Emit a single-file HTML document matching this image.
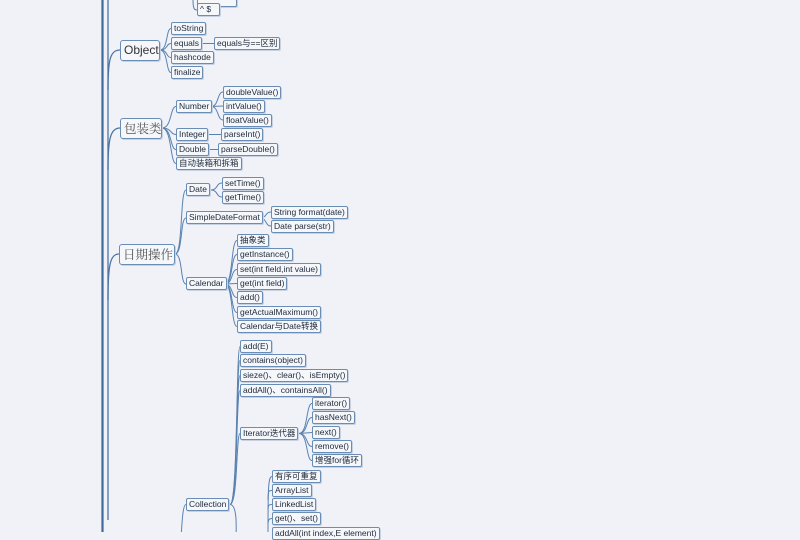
<!DOCTYPE html>
<html><head><meta charset="utf-8"><style>
html,body{margin:0;padding:0}
body{width:800px;height:532px;overflow:hidden;background:#f0f2f8;position:relative;font-family:"Liberation Sans","Noto Sans CJK SC",sans-serif}
svg{position:absolute;left:0;top:0}
.n{position:absolute;box-sizing:border-box;height:13px;border:1px solid #6a8db6;border-radius:2px;background:#f5f7fb;font-size:8.5px;line-height:11px;color:#1e2a3a;padding:0 2px;white-space:nowrap;box-shadow:1px 1px 0 #c6d2e2}
.b{height:21px;font-size:12px;line-height:19px;padding:0 3px;border-radius:3px;color:#333}
.s{font-family:"Noto Serif CJK SC","Liberation Serif",serif;font-size:12.5px;color:#555}
</style></head><body>
<svg width="800" height="532" fill="none" stroke="#5a82b0" stroke-width="1">
<line x1="102.5" y1="0" x2="102.5" y2="532" stroke="#3f6a9e" stroke-width="2.2"/>
<path d="M108 0 L108 520" stroke="#4d74a4" stroke-width="1.3"/>
<path d="M108 90 C108 60 110 50 120 50" stroke="#4d74a4" stroke-width="1.3"/>
<path d="M108 170 C108 140 110 128 120 128" stroke="#4d74a4" stroke-width="1.3"/>
<path d="M108 300 C108 265 110 254 119 254" stroke="#4d74a4" stroke-width="1.3"/>
<path d="M193 0 C193 8 194 10 197 10"/>
<g>
<path d="M160 50 C168 50 166 28.5 171 28.5"/><path d="M160 50 C168 50 166 43.5 171 43.5"/><path d="M160 50 C168 50 166 57.5 171 57.5"/><path d="M160 50 C168 50 166 72.5 171 72.5"/>
<path d="M203 43.5 L214 43.5"/>
<path d="M162 128 C172 128 170 106.5 176 106.5"/><path d="M162 128 C172 128 170 134.5 176 134.5"/><path d="M162 128 C172 128 170 149.5 176 149.5"/><path d="M162 128 C172 128 170 163.5 176 163.5"/>
<path d="M211 106.5 C219 106.5 217 92 223 92"/><path d="M211 106.5 L223 106"/><path d="M211 106.5 C219 106.5 217 120 223 120"/>
<path d="M208 134.5 L221 134.5"/><path d="M206 149.5 L218 149.5"/>
<path d="M175 254 C183 254 180 190 186 190"/><path d="M175 254 C183 254 180 218 186 218"/><path d="M175 254 C183 254 180 284 186 284"/>
<path d="M211 190 C218 190 216 183 222 183"/><path d="M211 190 C218 190 216 197 222 197"/>
<path d="M260 218 C267 218 265 212 271 212"/><path d="M260 218 C267 218 265 226 271 226"/>
<path d="M225 284 C233 284 231 240.5 237 240.5"/><path d="M225 284 C233 284 231 254.5 237 254.5"/><path d="M225 284 C233 284 231 269.5 237 269.5"/><path d="M225 284 L237 283.5"/><path d="M225 284 C233 284 231 297.5 237 297.5"/><path d="M225 284 C233 284 231 312.5 237 312.5"/><path d="M225 284 C233 284 231 326.5 237 326.5"/>
<path d="M230 504.5 C238 504.5 236 346.5 240 346.5"/><path d="M230 504.5 C238 504.5 236 360.5 240 360.5"/><path d="M230 504.5 C238 504.5 236 375.5 240 375.5"/><path d="M230 504.5 C238 504.5 236 390.5 240 390.5"/><path d="M230 504.5 C238 504.5 236 433.5 240 433.5"/><path d="M230 504.5 C238 504.5 236 532 236 540"/>
<path d="M186 504.5 C183 504.5 182 520 181 540"/>
<path d="M299 433.5 C308 433.5 306 403.5 312 403.5"/><path d="M299 433.5 C308 433.5 306 417.5 312 417.5"/><path d="M299 433.5 L312 432.5"/><path d="M299 433.5 C308 433.5 306 446.5 312 446.5"/><path d="M299 433.5 C308 433.5 306 460.5 312 460.5"/>
<path d="M268 540 C268 490 268 476.5 272 476.5"/><path d="M268 500 C268 490 269 490.5 272 490.5"/><path d="M268 510 C268 505 269 504.5 272 504.5"/><path d="M268 525 C268 520 269 518.5 272 518.5"/>
</g>
</svg>
<div class="n" style="left:197px;top:-6px;width:40px"></div>
<div class="n" style="left:197px;top:3px;width:23px">^ $</div>
<div class="n b" style="left:120px;top:40px;width:40px">Object</div>
<div class="n" style="left:171px;top:22px">toString</div>
<div class="n" style="left:171px;top:37px">equals</div>
<div class="n" style="left:171px;top:51px">hashcode</div>
<div class="n" style="left:171px;top:66px">finalize</div>
<div class="n" style="left:214px;top:37px">equals与==区别</div>
<div class="n b s" style="left:120px;top:118px;width:42px">包装类</div>
<div class="n" style="left:176px;top:100px">Number</div>
<div class="n" style="left:176px;top:128px">Integer</div>
<div class="n" style="left:176px;top:143px">Double</div>
<div class="n" style="left:176px;top:157px">自动装箱和拆箱</div>
<div class="n" style="left:223px;top:86px">doubleValue()</div>
<div class="n" style="left:223px;top:100px">intValue()</div>
<div class="n" style="left:223px;top:114px">floatValue()</div>
<div class="n" style="left:221px;top:128px">parseInt()</div>
<div class="n" style="left:218px;top:143px">parseDouble()</div>
<div class="n b s" style="left:119px;top:244px;width:56px">日期操作</div>
<div class="n" style="left:186px;top:183px">Date</div>
<div class="n" style="left:186px;top:211px">SimpleDateFormat</div>
<div class="n" style="left:186px;top:277px">Calendar</div>
<div class="n" style="left:222px;top:177px">setTime()</div>
<div class="n" style="left:222px;top:191px">getTime()</div>
<div class="n" style="left:271px;top:206px">String format(date)</div>
<div class="n" style="left:271px;top:220px">Date parse(str)</div>
<div class="n" style="left:237px;top:234px">抽象类</div>
<div class="n" style="left:237px;top:248px">getInstance()</div>
<div class="n" style="left:237px;top:263px">set(int field,int value)</div>
<div class="n" style="left:237px;top:277px">get(int field)</div>
<div class="n" style="left:237px;top:291px">add()</div>
<div class="n" style="left:237px;top:306px">getActualMaximum()</div>
<div class="n" style="left:237px;top:320px">Calendar与Date转换</div>
<div class="n" style="left:186px;top:498px">Collection</div>
<div class="n" style="left:240px;top:340px">add(E)</div>
<div class="n" style="left:240px;top:354px">contains(object)</div>
<div class="n" style="left:240px;top:369px">sieze()、clear()、isEmpty()</div>
<div class="n" style="left:240px;top:384px">addAll()、containsAll()</div>
<div class="n" style="left:240px;top:427px">Iterator迭代器</div>
<div class="n" style="left:312px;top:397px">iterator()</div>
<div class="n" style="left:312px;top:411px">hasNext()</div>
<div class="n" style="left:312px;top:426px">next()</div>
<div class="n" style="left:312px;top:440px">remove()</div>
<div class="n" style="left:312px;top:454px">增强for循环</div>
<div class="n" style="left:272px;top:470px">有序可重复</div>
<div class="n" style="left:272px;top:484px">ArrayList</div>
<div class="n" style="left:272px;top:498px">LinkedList</div>
<div class="n" style="left:272px;top:512px">get()、set()</div>
<div class="n" style="left:272px;top:527px">addAll(int index,E element)</div>
</body></html>
